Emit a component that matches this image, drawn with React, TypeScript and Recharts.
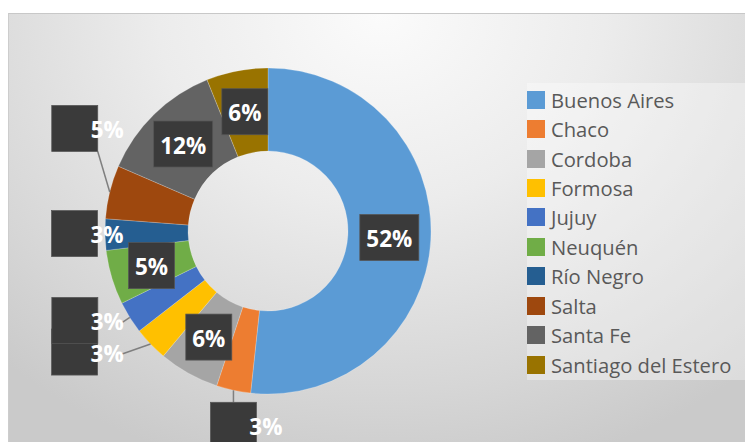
import React from 'react';
import { PieChart, Pie, Cell, Legend } from 'recharts';

const categories = ['Buenos Aires', 'Chaco', 'Cordoba', 'Formosa', 'Jujuy', 'Neuquén', 'Río Negro', 'Salta', 'Santa Fe', 'Santiago del Estero'];
const shares = [51.7, 3.4, 6.0, 3.4, 3.2, 5.4, 3.1, 5.3, 12.4, 6.1];
const colors = ['#5B9BD5', '#ED7D31', '#A5A5A5', '#FFC000', '#4472C4', '#70AD47', '#255E91', '#9E480E', '#636363', '#997300'];

// label placement: inside the ring, or outside with an offset of the box centre from the slice's outer point
const labelPlacement = [
  { mode: 'inside' },
  { mode: 'outside', dx: 0, dy: 35, line: 'top' },
  { mode: 'inside' },
  { mode: 'outside', dx: -76, dy: 8, line: 'text' },
  { mode: 'outside', dx: -55, dy: 3, line: 'text' },
  { mode: 'inside' },
  { mode: 'outside', dx: -30.5, dy: -1, line: 'none' },
  { mode: 'outside', dx: -35, dy: -63.5, line: 'corner' },
  { mode: 'inside' },
  { mode: 'inside' },
];

const data = categories.map((name, i) => ({ name, value: shares[i] }));

const RAD = Math.PI / 180;
const LABEL_FONT = '"Open Sans", sans-serif';
const LABEL_SIZE = 22.5;

const renderLabel = (p: any) => {
  const { cx, cy, midAngle, innerRadius, outerRadius, percent, index } = p;
  const text = `${Math.round(percent * 100)}%`;
  const w = text.length > 2 ? 59 : 46;
  const h = 46;
  const place: any = labelPlacement[index];
  const cos = Math.cos(-midAngle * RAD);
  const sin = Math.sin(-midAngle * RAD);
  if (place.mode === 'inside') {
    const r = (innerRadius + outerRadius) / 2;
    const x = cx + r * cos;
    const y = cy + r * sin;
    return (
      <g key={`lab-${index}`}>
        <rect x={x - w / 2} y={y - h / 2} width={w} height={h} fill="#3a3a3a" stroke="#555" strokeWidth={0.75} />
        <text x={x} y={y + 1} textAnchor="middle" dominantBaseline="central" fill="#fff" fontFamily={LABEL_FONT} fontWeight={700} fontSize={LABEL_SIZE}>
          {text}
        </text>
      </g>
    );
  }
  const ax = cx + outerRadius * cos;
  const ay = cy + outerRadius * sin;
  const bx = ax + place.dx;
  const by = ay + place.dy;
  const tx = bx + 32.5;
  let line: any = null;
  if (place.line === 'top') line = <line x1={ax} y1={ay} x2={bx} y2={by - h / 2} stroke="#7f7f7f" strokeWidth={1.5} />;
  if (place.line === 'corner') line = <line x1={ax} y1={ay} x2={bx + w / 2} y2={by + h / 2} stroke="#7f7f7f" strokeWidth={1.5} />;
  if (place.line === 'text') line = <line x1={ax} y1={ay} x2={tx + 15} y2={by + 2} stroke="#7f7f7f" strokeWidth={1.5} />;
  return (
    <g key={`lab-${index}`}>
      {line}
      <rect x={bx - w / 2} y={by - h / 2} width={w} height={h} fill="#3a3a3a" stroke="#555" strokeWidth={0.75} />
      <text x={tx} y={by + 1} textAnchor="middle" dominantBaseline="central" fill="#fff" fontFamily={LABEL_FONT} fontWeight={700} fontSize={LABEL_SIZE}>
        {text}
      </text>
    </g>
  );
};

const LegendContent = () => (
  <div
    style={{
      background: 'rgba(255,255,255,0.35)',
      width: 230,
      height: 297,
      paddingTop: 2,
      boxSizing: 'border-box',
      fontFamily: '"Open Sans", sans-serif',
    }}
  >
    {categories.map((c, i) => (
      <div key={c} style={{ display: 'flex', alignItems: 'center', height: 29.45 }}>
        <span style={{ display: 'inline-block', width: 18, height: 18, background: colors[i], marginRight: 6, flexShrink: 0 }} />
        <span style={{ fontSize: 20.2, color: '#595959', whiteSpace: 'nowrap' }}>{c}</span>
      </div>
    ))}
  </div>
);

export default function App() {
  return (
    <div style={{ paddingTop: 5 }}>
      <div
        style={{
          width: 745,
          height: 429,
          borderTop: '1px solid #c8c8c8',
          borderLeft: '1px solid #cdcdcd',
          background: 'radial-gradient(ellipse 75% 110% at 50% 0%, #fbfbfb 0%, #ececec 40%, #d6d6d6 80%, #cacaca 100%)',
          overflow: 'hidden',
        }}
      >
        <PieChart width={745} height={429} margin={{ top: 0, right: 0, bottom: 0, left: 0 }}>
          <Pie
            data={data}
            dataKey="value"
            nameKey="name"
            cx={259}
            cy={217}
            innerRadius={80}
            outerRadius={163}
            startAngle={90}
            endAngle={-270}
            stroke="rgba(255,255,255,0.35)"
            strokeWidth={0.6}
            label={renderLabel}
            labelLine={false}
            isAnimationActive={false}
          >
            {data.map((d, i) => (
              <Cell key={d.name} fill={colors[i]} />
            ))}
          </Pie>
          <Legend
            content={<LegendContent />}
            wrapperStyle={{ position: 'absolute', left: 518, top: 69, width: 230, height: 297 }}
          />
        </PieChart>
      </div>
    </div>
  );
}
